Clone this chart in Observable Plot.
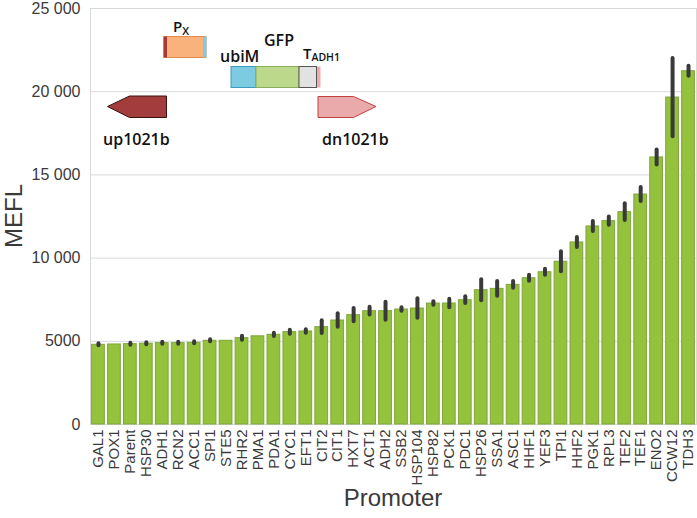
<!DOCTYPE html>
<html>
<head>
<meta charset="utf-8">
<script src="https://cdn.jsdelivr.net/npm/d3@7"></script>
<script src="https://cdn.jsdelivr.net/npm/@observablehq/plot@0.6"></script>
<style>
  html, body { margin: 0; padding: 0; background: #fff; }
  #chart svg { display: block; font-family: "Liberation Sans", Arial, sans-serif; }
</style>
</head>
<body>
<div id="chart"></div>
<script>
const promoters = ["GAL1","POX1","Parent","HSP30","ADH1","RCN2","ACC1","SPI1","STE5","RHR2","PMA1","PDA1","CYC1","EFT1","CIT2","CIT1","HXT7","ACT1","ADH2","SSB2","HSP104","HSP82","PCK1","PDC1","HSP26","SSA1","ASC1","HHF1","YEF3","TPI1","HHF2","PGK1","RPL3","TEF2","TEF1","ENO2","CCW12","TDH3"];
const mefl = [4790,4810,4830,4860,4890,4890,4910,5030,5030,5190,5300,5390,5550,5590,5850,6250,6570,6810,6810,6910,6970,7270,7270,7470,8070,8150,8390,8790,9150,9780,10940,11900,12220,12760,13820,16050,19650,21230];
const meflErr = [60,0,60,60,60,60,60,60,0,120,0,100,120,100,380,400,400,230,540,100,580,100,250,200,630,450,200,180,180,600,300,300,250,500,420,450,2350,300];
const yTicks = [0,5000,10000,15000,20000,25000];

const rows = promoters.map((p, i) => ({promoter: p, value: mefl[i], err: meflErr[i]}));
const fmt = v => v >= 10000 ? d3.format(",")(v).replace(/,/g, " ") : String(v);

const W = 697, H = 518;
const chart = Plot.plot({
  width: W,
  height: H,
  marginLeft: 90,
  marginRight: 1,
  marginTop: 8,
  marginBottom: 94,
  x: {domain: promoters, paddingInner: 0.2, paddingOuter: 0.1, label: null},
  y: {domain: [0, 25000], label: null},
  marks: [
    Plot.gridY(yTicks, {stroke: "#d9d9d9", strokeOpacity: 1, strokeWidth: 1}),
    Plot.frame({stroke: "#d9d9d9", strokeWidth: 1}),
    Plot.barY(rows, {x: "promoter", y: "value", fill: "#94c23d", stroke: "#7fa63a", strokeWidth: 1}),
    Plot.ruleX(rows.filter(d => d.err > 0), {x: "promoter", y1: d => d.value - d.err, y2: d => d.value + d.err, stroke: "#3a3a3a", strokeWidth: 4, strokeLinecap: "round"}),
    Plot.axisY(yTicks, {tickSize: 0, tickPadding: 10, tickFormat: fmt, fontSize: 16, color: "#3a3a3a", label: null}),
    Plot.axisX({tickSize: 0, tickPadding: 5, tickRotate: -90, fontSize: 15, color: "#3a3a3a", label: null})
  ]
});
document.getElementById("chart").appendChild(chart);

const svg = d3.select(chart);
// axis titles
svg.append("text").attr("x", 393).attr("y", 506).attr("text-anchor", "middle")
  .attr("font-size", 24).attr("fill", "#3a3a3a").text("Promoter");
svg.append("text").attr("transform", "translate(22,216) rotate(-90)").attr("text-anchor", "middle")
  .attr("font-size", 24).attr("fill", "#3a3a3a").text("MEFL");

// construct diagram annotation
const g = svg.append("g").attr("font-family", "'Open Sans', sans-serif").attr("font-weight", 600)
  .attr("fill", "#111").attr("text-anchor", "start");
// P_X block
g.append("rect").attr("x", 164).attr("y", 36.5).attr("width", 42).attr("height", 21).attr("fill", "#f9b27b").attr("stroke", "#e08a50").attr("stroke-width", 1);
g.append("rect").attr("x", 163.5).attr("y", 36.5).attr("width", 3.5).attr("height", 21).attr("fill", "#a83a34");
g.append("rect").attr("x", 203).attr("y", 36.5).attr("width", 3.5).attr("height", 21).attr("fill", "#7ccbe0");
const px = g.append("text").attr("x", 173).attr("y", 32).attr("font-size", 15);
px.append("tspan").text("P");
px.append("tspan").attr("font-size", 11).attr("dy", 3).text("X");
// ubiM - GFP - T_ADH1
g.append("rect").attr("x", 231).attr("y", 66.5).attr("width", 25).attr("height", 21).attr("fill", "#7dcbe0").attr("stroke", "#3f9bbd");
g.append("rect").attr("x", 256).attr("y", 66.5).attr("width", 43).attr("height", 21).attr("fill", "#bcd88b").attr("stroke", "#8aad5c");
g.append("rect").attr("x", 299).attr("y", 66.5).attr("width", 17.5).attr("height", 21).attr("fill", "#e2e2e2").attr("stroke", "#555");
g.append("rect").attr("x", 317).attr("y", 66.5).attr("width", 3.5).attr("height", 21).attr("fill", "#eeaab0");
g.append("text").attr("x", 220).attr("y", 62).attr("font-size", 16).text("ubiM");
g.append("text").attr("x", 264).attr("y", 46).attr("font-size", 16).text("GFP");
const ta = g.append("text").attr("x", 303).attr("y", 59).attr("font-size", 15);
ta.append("tspan").text("T");
ta.append("tspan").attr("font-size", 10.5).attr("dy", 2).text("ADH1");
// arrows
g.append("polygon").attr("points", "107.5,106.5 129.5,96 166.5,96 166.5,117.5 129.5,117.5")
  .attr("fill", "#a33c3c").attr("stroke", "#3a1010").attr("stroke-width", 1);
g.append("polygon").attr("points", "318,96.5 353.5,96.5 376,106.5 353.5,117.5 318,117.5")
  .attr("fill", "#eaa9aa").attr("stroke", "#c0403f").attr("stroke-width", 1);
g.append("text").attr("x", 103).attr("y", 145).attr("font-size", 16).text("up1021b");
g.append("text").attr("x", 322).attr("y", 145).attr("font-size", 16).text("dn1021b");
</script>
</body>
</html>
